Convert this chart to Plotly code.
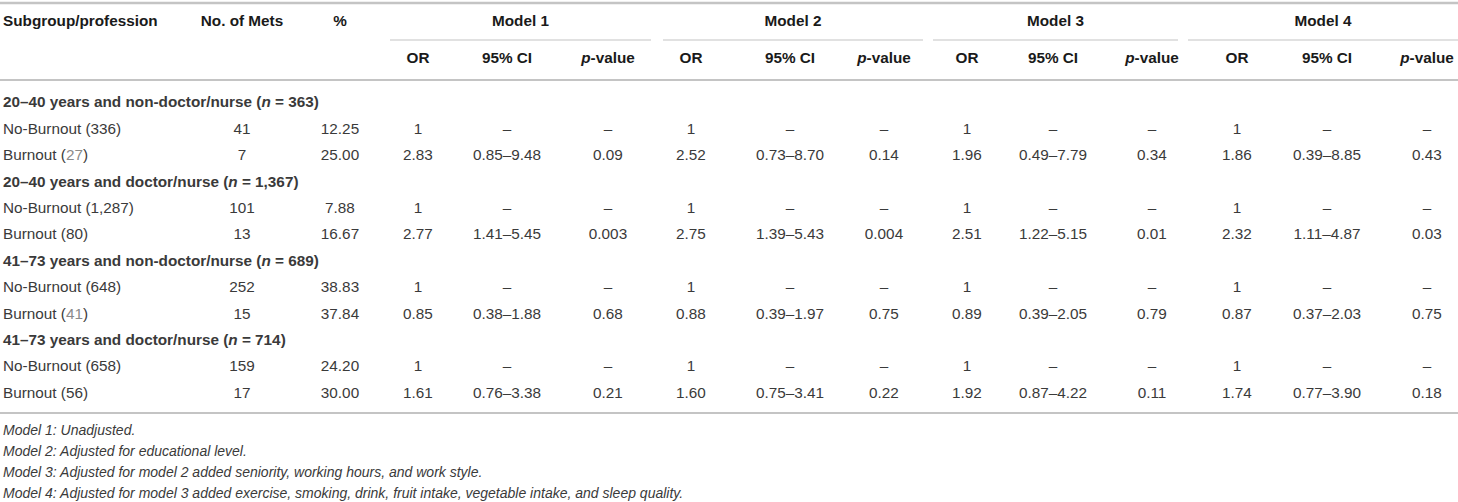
import plotly.graph_objects as go

# ---------------- data ----------------
group_titles = ["20–40 years and non-doctor/nurse", "20–40 years and doctor/nurse",
                "41–73 years and non-doctor/nurse", "41–73 years and doctor/nurse"]
group_n = ["363", "1,367", "689", "714"]
no_burnout_n = ["336", "1,287", "648", "658"]
burnout_n = ["27", "80", "41", "56"]
burnout_n_gray = [True, False, True, False]

mets_no = [41, 101, 252, 159]
mets_yes = [7, 13, 15, 17]
pct_no = ["12.25", "7.88", "38.83", "24.20"]
pct_yes = ["25.00", "16.67", "37.84", "30.00"]

m1_or = ["2.83", "2.77", "0.85", "1.61"]
m1_ci = ["0.85–9.48", "1.41–5.45", "0.38–1.88", "0.76–3.38"]
m1_p = ["0.09", "0.003", "0.68", "0.21"]
m2_or = ["2.52", "2.75", "0.88", "1.60"]
m2_ci = ["0.73–8.70", "1.39–5.43", "0.39–1.97", "0.75–3.41"]
m2_p = ["0.14", "0.004", "0.75", "0.22"]
m3_or = ["1.96", "2.51", "0.89", "1.92"]
m3_ci = ["0.49–7.79", "1.22–5.15", "0.39–2.05", "0.87–4.22"]
m3_p = ["0.34", "0.01", "0.79", "0.11"]
m4_or = ["1.86", "2.32", "0.87", "1.74"]
m4_ci = ["0.39–8.85", "1.11–4.87", "0.37–2.03", "0.77–3.90"]
m4_p = ["0.43", "0.03", "0.75", "0.18"]

model_names = ["Model 1", "Model 2", "Model 3", "Model 4"]
sub_headers = ["OR", "95% CI", "<i>p</i>-value"]
footnotes = [
    "Model 1: Unadjusted.",
    "Model 2: Adjusted for educational level.",
    "Model 3: Adjusted for model 2 added seniority, working hours, and work style.",
    "Model 4: Adjusted for model 3 added exercise, smoking, drink, fruit intake, vegetable intake, and sleep quality.",
]

# ---------------- layout constants ----------------
W, H = 1458, 502
FONT = "Liberation Sans, Arial, Helvetica, sans-serif"
TXT = "#3a3a3a"
HDR = "#1a1a1a"
LINE = "#c4c4c4"
FS = 15.3

x_label = 3
x_mets = 242
x_pct = 340
model_cols = [[418, 507, 608], [691, 790, 884], [967, 1053, 1152], [1237, 1327, 1427]]
model_spans = [[390, 651], [663, 923], [933, 1178], [1188, 1458]]

y_h1 = 22
y_h2 = 59
y_row0 = 103.5
row_h = 26.4
y_foot0 = 431
foot_h = 21

model_vals = [(m1_or, m1_ci, m1_p), (m2_or, m2_ci, m2_p), (m3_or, m3_ci, m3_p), (m4_or, m4_ci, m4_p)]

left_x, left_y, left_t = [], [], []
cx, cy, ct = [], [], []

for g in range(4):
    yg = y_row0 + row_h * (3 * g)
    y_no = yg + row_h
    y_yes = yg + 2 * row_h
    left_x.append(x_label); left_y.append(yg)
    left_t.append(f"<b>{group_titles[g]} (<i>n</i> = {group_n[g]})</b>")
    left_x.append(x_label); left_y.append(y_no)
    left_t.append(f"No-Burnout ({no_burnout_n[g]})")
    bn = burnout_n[g]
    if burnout_n_gray[g]:
        bn = f"<span style='color:#8a8a8a'>{bn}</span>"
    left_x.append(x_label); left_y.append(y_yes)
    left_t.append(f"Burnout ({bn})")
    cx += [x_mets, x_pct, x_mets, x_pct]
    cy += [y_no, y_no, y_yes, y_yes]
    ct += [str(mets_no[g]), pct_no[g], str(mets_yes[g]), pct_yes[g]]
    for m in range(4):
        orv, civ, pv = model_vals[m]
        c = model_cols[m]
        cx += [c[0], c[1], c[2]]; cy += [y_no] * 3; ct += ["1", "–", "–"]
        cx += [c[0], c[1], c[2]]; cy += [y_yes] * 3; ct += [orv[g], civ[g], pv[g]]

hx, hy, ht = [], [], []
hx += [x_mets, x_pct]; hy += [y_h1, y_h1]; ht += ["<b>No. of Mets</b>", "<b>%</b>"]
for m in range(4):
    hx.append((model_spans[m][0] + model_spans[m][1]) / 2); hy.append(y_h1)
    ht.append(f"<b>{model_names[m]}</b>")
    for k in range(3):
        hx.append(model_cols[m][k]); hy.append(y_h2); ht.append(f"<b>{sub_headers[k]}</b>")

fig = go.Figure()
fig.add_trace(go.Scatter(x=[x_label], y=[y_h1], mode="text", text=["<b>Subgroup/profession</b>"],
                         textposition="middle right", textfont=dict(family=FONT, size=FS, color=HDR),
                         hoverinfo="skip", cliponaxis=False))
fig.add_trace(go.Scatter(x=hx, y=hy, mode="text", text=ht, textposition="middle center",
                         textfont=dict(family=FONT, size=FS, color=HDR), hoverinfo="skip", cliponaxis=False))
fig.add_trace(go.Scatter(x=left_x, y=left_y, mode="text", text=left_t, textposition="middle right",
                         textfont=dict(family=FONT, size=FS, color=TXT), hoverinfo="skip", cliponaxis=False))
fig.add_trace(go.Scatter(x=cx, y=cy, mode="text", text=ct, textposition="middle center",
                         textfont=dict(family=FONT, size=FS, color=TXT), hoverinfo="skip", cliponaxis=False))
fig.add_trace(go.Scatter(x=[x_label] * 4, y=[y_foot0 + foot_h * i for i in range(4)], mode="text",
                         text=[f"<i>{f}</i>" for f in footnotes], textposition="middle right",
                         textfont=dict(family=FONT, size=14, color=TXT), hoverinfo="skip", cliponaxis=False))

shapes = []
for yl, w in [(3, 2.5), (80, 2), (413, 2)]:
    shapes.append(dict(type="line", xref="x", yref="y", x0=0, x1=W, y0=yl, y1=yl,
                       line=dict(color=LINE, width=w)))
for s in model_spans:
    shapes.append(dict(type="line", xref="x", yref="y", x0=s[0], x1=s[1], y0=40, y1=40,
                       line=dict(color=LINE, width=1.2)))

fig.update_layout(
    width=W, height=H, margin=dict(l=0, r=0, t=0, b=0),
    paper_bgcolor="white", plot_bgcolor="white", showlegend=False, shapes=shapes,
    hovermode=False,
    xaxis=dict(range=[0, W], visible=False, fixedrange=True),
    yaxis=dict(range=[H, 0], visible=False, fixedrange=True),
)
fig.write_html("out.html", config={"displayModeBar": False, "staticPlot": True},
               post_script="document.body.style.margin='0px';document.body.style.overflow='hidden';")
